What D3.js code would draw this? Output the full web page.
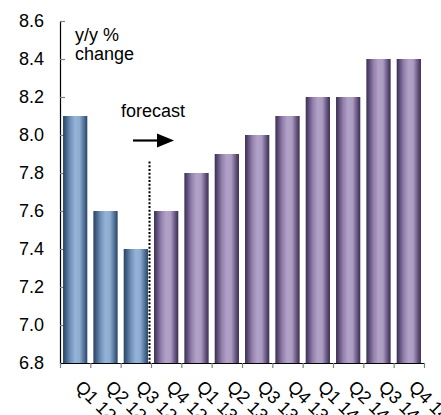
<!DOCTYPE html>
<html>
<head>
<meta charset="utf-8">
<script src="https://cdn.jsdelivr.net/npm/d3@7/dist/d3.min.js"></script>
<style>
  html, body { margin: 0; padding: 0; background: #fff; }
  svg { display: block; font-family: "Liberation Sans", Arial, sans-serif; }
</style>
</head>
<body>
<svg id="chart" width="441" height="415"></svg>
<script>
// Quarterly y/y % change, actual then forecast
const quarters = ["Q1 12", "Q2 12", "Q3 12", "Q4 12", "Q1 13", "Q2 13", "Q3 13", "Q4 13", "Q1 14", "Q2 14", "Q3 14", "Q4 14"];
const values = [8.1, 7.6, 7.4, 7.6, 7.8, 7.9, 8.0, 8.1, 8.2, 8.2, 8.4, 8.4];
const actualCount = 3;           // first quarters are actuals, the rest forecast
const yTicks = [6.8, 7.0, 7.2, 7.4, 7.6, 7.8, 8.0, 8.2, 8.4, 8.6];
const yDomain = [6.8, 8.6];
const forecastLineTop = 7.86;    // top of the dotted divider, in data units

const svg = d3.select("#chart");
const plotLeft = 60, plotRight = 424, plotTop = 21, plotBottom = 363;

const x = d3.scaleBand().domain(quarters).range([plotLeft, plotRight]).paddingInner(0.2).paddingOuter(0.1);
const xEdge = d3.scaleLinear().domain([0, quarters.length]).range([plotLeft, plotRight]);
const y = d3.scaleLinear().domain(yDomain).range([plotBottom, plotTop]);

// Bar fills: horizontal shading, dark edges and lighter middle
const defs = svg.append("defs");
function shade(id, stops) {
  const g = defs.append("linearGradient").attr("id", id)
    .attr("x1", "0%").attr("x2", "100%").attr("y1", "0%").attr("y2", "0%");
  stops.forEach(([o, c]) => g.append("stop").attr("offset", o).attr("stop-color", c));
}
shade("actual", [[0, "#2a4362"], [0.1, "#3c5b80"], [0.3, "#7191ba"], [0.5, "#95b3d7"], [0.68, "#8eacd0"], [0.85, "#56779e"], [1, "#2a4362"]]);
shade("forecast", [[0, "#3b2d4e"], [0.1, "#574873"], [0.3, "#9481ad"], [0.5, "#b3a2c7"], [0.68, "#ad9cc2"], [0.85, "#6e5d88"], [1, "#3b2d4e"]]);

// Y axis: ticks point into the plot
const yAxis = svg.append("g").attr("transform", `translate(${plotLeft},0)`)
  .call(d3.axisLeft(y).tickValues(yTicks).tickFormat(d3.format(".1f")).tickSize(-5).tickSizeOuter(0).tickPadding(16));
yAxis.select(".domain").attr("stroke", "#000").attr("stroke-width", 1.2);
yAxis.selectAll(".tick line").attr("stroke", "#808080").attr("stroke-width", 1.2);
yAxis.selectAll(".tick text").attr("font-size", 18).attr("fill", "#000")
  .attr("font-family", "'Liberation Sans', Arial, sans-serif");

// Bars
svg.append("g").selectAll("rect").data(values).join("rect")
  .attr("x", (d, i) => x(quarters[i]))
  .attr("width", x.bandwidth())
  .attr("y", d => y(d))
  .attr("height", d => y(yDomain[0]) - y(d))
  .attr("fill", (d, i) => i < actualCount ? "url(#actual)" : "url(#forecast)");

// X axis with ticks at category boundaries
const xAxis = svg.append("g").attr("transform", `translate(0,${plotBottom})`)
  .call(d3.axisBottom(xEdge).tickValues(d3.range(quarters.length + 1)).tickFormat("").tickSize(5).tickSizeOuter(0));
xAxis.select(".domain").attr("stroke", "#000").attr("stroke-width", 1.2);
xAxis.selectAll(".tick line").attr("stroke", "#808080").attr("stroke-width", 1.2);

// Rotated category labels
svg.append("g").selectAll("text").data(quarters).join("text")
  .attr("transform", d => `translate(${x(d) + x.bandwidth() / 2 - 1},${plotBottom + 25}) rotate(45)`)
  .attr("font-size", 18).attr("fill", "#000")
  .text(d => d);

// Dotted divider between actuals and forecast
const divX = xEdge(actualCount) - 1.5;
svg.append("line")
  .attr("x1", divX).attr("x2", divX)
  .attr("y1", y(forecastLineTop)).attr("y2", plotBottom)
  .attr("stroke", "#000").attr("stroke-width", 2).attr("stroke-dasharray", "2 1.7");

// Forecast annotation with arrow
svg.append("text").attr("x", 121).attr("y", 117).attr("font-size", 18).attr("fill", "#000").text("forecast");
svg.append("line").attr("x1", 133).attr("x2", 158).attr("y1", 140.5).attr("y2", 140.5)
  .attr("stroke", "#000").attr("stroke-width", 2.2);
svg.append("path").attr("d", "M157,133.5 L174,140.5 L157,147.5 Z").attr("fill", "#000");

// Unit label
const unit = svg.append("text").attr("x", 75).attr("font-size", 18).attr("fill", "#000");
unit.append("tspan").attr("x", 75).attr("y", 41).text("y/y %");
unit.append("tspan").attr("x", 75).attr("y", 60).text("change");
</script>
</body>
</html>
